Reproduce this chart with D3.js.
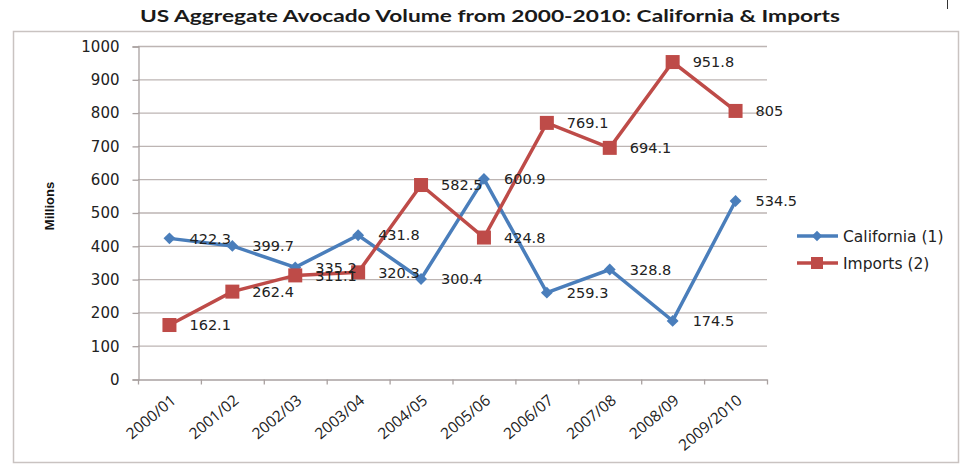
<!DOCTYPE html>
<html><head><meta charset="utf-8">
<script src="https://cdnjs.cloudflare.com/ajax/libs/d3/7.8.5/d3.min.js"></script>
<style>body{margin:0;background:#fff;}svg{display:block;}</style>
</head><body>
<script>
const categories = ["2000/01","2001/02","2002/03","2003/04","2004/05","2005/06","2006/07","2007/08","2008/09","2009/2010"];
const california = [422.3,399.7,335.2,431.8,300.4,600.9,259.3,328.8,174.5,534.5];
const imports = [162.1,262.4,311.1,320.3,582.5,424.8,769.1,694.1,951.8,805];
const yTicks = [0,100,200,300,400,500,600,700,800,900,1000];
const seriesNames = ["California (1)","Imports (2)"];
const colors = ["#4a7ebb","#be4b48"];

const W=965,H=466;
const svg=d3.select("body").append("svg").attr("width",W).attr("height",H);
svg.append("rect").attr("x",13.5).attr("y",31.5).attr("width",945).attr("height",431).attr("fill","#fff").attr("stroke","#c9c3c1").attr("stroke-width",1.5);
svg.append("line").attr("x1",947.5).attr("x2",947.5).attr("y1",0).attr("y2",9).attr("stroke","#333");

svg.append("text").attr("x",490).attr("y",22).attr("text-anchor","middle")
  .attr("font-family","Lato, 'Open Sans', sans-serif").attr("font-weight","bold").attr("font-size",17)
  .attr("fill","#1a1a1a").attr("textLength",700).attr("lengthAdjust","spacingAndGlyphs")
  .text("US Aggregate Avocado Volume from 2000-2010: California & Imports");

const x=d3.scaleBand().domain(categories).range([138,767]);
const y=d3.scaleLinear().domain([0,1000]).range([379,46]);
const cx=d=>x(d)+x.bandwidth()/2;

const g=svg.append("g");
g.selectAll("line.grid").data(yTicks.filter(t=>t>0)).join("line")
  .attr("x1",138).attr("x2",767).attr("y1",d=>y(d)+0.5).attr("y2",d=>y(d)+0.5)
  .attr("stroke","#bdb5b3").attr("stroke-width",1.3);
const yAxis=d3.axisLeft(y).tickValues(yTicks).tickFormat(d3.format("d")).tickSize(6).tickPadding(13);
const ya=svg.append("g").attr("transform","translate(138.5,0.5)").call(yAxis);
ya.select(".domain").attr("stroke","#a9a1a0").attr("stroke-width",1.3);
ya.selectAll(".tick line").attr("stroke","#a9a1a0").attr("stroke-width",1.3);
ya.selectAll("text").attr("font-family","'DejaVu Sans', Verdana, sans-serif").attr("font-size",15).attr("fill","#222");
const xAxis=d3.axisBottom(x).tickSize(0).tickFormat("");
const xa=svg.append("g").attr("transform","translate(0,379.5)").call(xAxis);
xa.select(".domain").attr("stroke","#a9a1a0").attr("stroke-width",1.3);
xa.selectAll(".tk").data(categories.concat(["_end"])).join("line")
  .attr("x1",(d,i)=>138+i*x.step()+0.5).attr("x2",(d,i)=>138+i*x.step()+0.5)
  .attr("y1",0).attr("y2",5).attr("stroke","#a9a1a0").attr("stroke-width",1.3);
svg.append("g").selectAll("text").data(categories).join("text")
  .attr("transform",d=>`translate(${cx(d)+4},${398}) rotate(-40)`)
  .attr("text-anchor","end").attr("dy","0.35em")
  .attr("font-family","'Open Sans', Lato, sans-serif").attr("font-size",15.5).attr("fill","#222")
  .text(d=>d);

svg.append("text").attr("transform","translate(49,206) rotate(-90)").attr("text-anchor","middle").attr("dy","0.35em")
  .attr("font-family","'Liberation Sans Narrow', 'Liberation Sans', Arial, sans-serif").attr("font-weight","bold").attr("font-size",13)
  .attr("fill","#111").text("Millions");

const line=d3.line().x((d,i)=>cx(categories[i])).y(d=>y(d));
const data=[california,imports];
data.forEach((vals,si)=>{
  svg.append("path").datum(vals).attr("d",line).attr("fill","none").attr("stroke",colors[si]).attr("stroke-width",3.5).attr("stroke-linejoin","miter");
});
svg.append("g").selectAll("path").data(california).join("path")
  .attr("d",d3.symbol(d3.symbolDiamond2,90)).attr("transform",(d,i)=>`translate(${cx(categories[i])},${y(d)})`).attr("fill",colors[0]);
svg.append("g").selectAll("rect").data(imports).join("rect")
  .attr("x",(d,i)=>cx(categories[i])-7).attr("y",d=>y(d)-7).attr("width",14).attr("height",14).attr("fill",colors[1]);
data.forEach((vals,si)=>{
  svg.append("g").selectAll("text").data(vals).join("text")
    .attr("x",(d,i)=>cx(categories[i])+20).attr("y",d=>y(d)).attr("dy","0.36em")
    .attr("font-family","'DejaVu Sans', Verdana, sans-serif").attr("font-size",14.5).attr("fill","#222")
    .text(d=>d);
});
seriesNames.forEach((n,i)=>{
  const ly=236+i*27;
  svg.append("line").attr("x1",797).attr("x2",838).attr("y1",ly).attr("y2",ly).attr("stroke",colors[i]).attr("stroke-width",3.5);
  if(i===0) svg.append("path").attr("d",d3.symbol(d3.symbolDiamond2,70)).attr("transform",`translate(817,${ly})`).attr("fill",colors[0]);
  else svg.append("rect").attr("x",811).attr("y",ly-6).attr("width",12).attr("height",12).attr("fill",colors[1]);
  svg.append("text").attr("x",843).attr("y",ly).attr("dy","0.36em")
    .attr("font-family","'DejaVu Sans', Verdana, sans-serif").attr("font-size",15.5).attr("fill","#222").text(n);
});
</script>
</body></html>
